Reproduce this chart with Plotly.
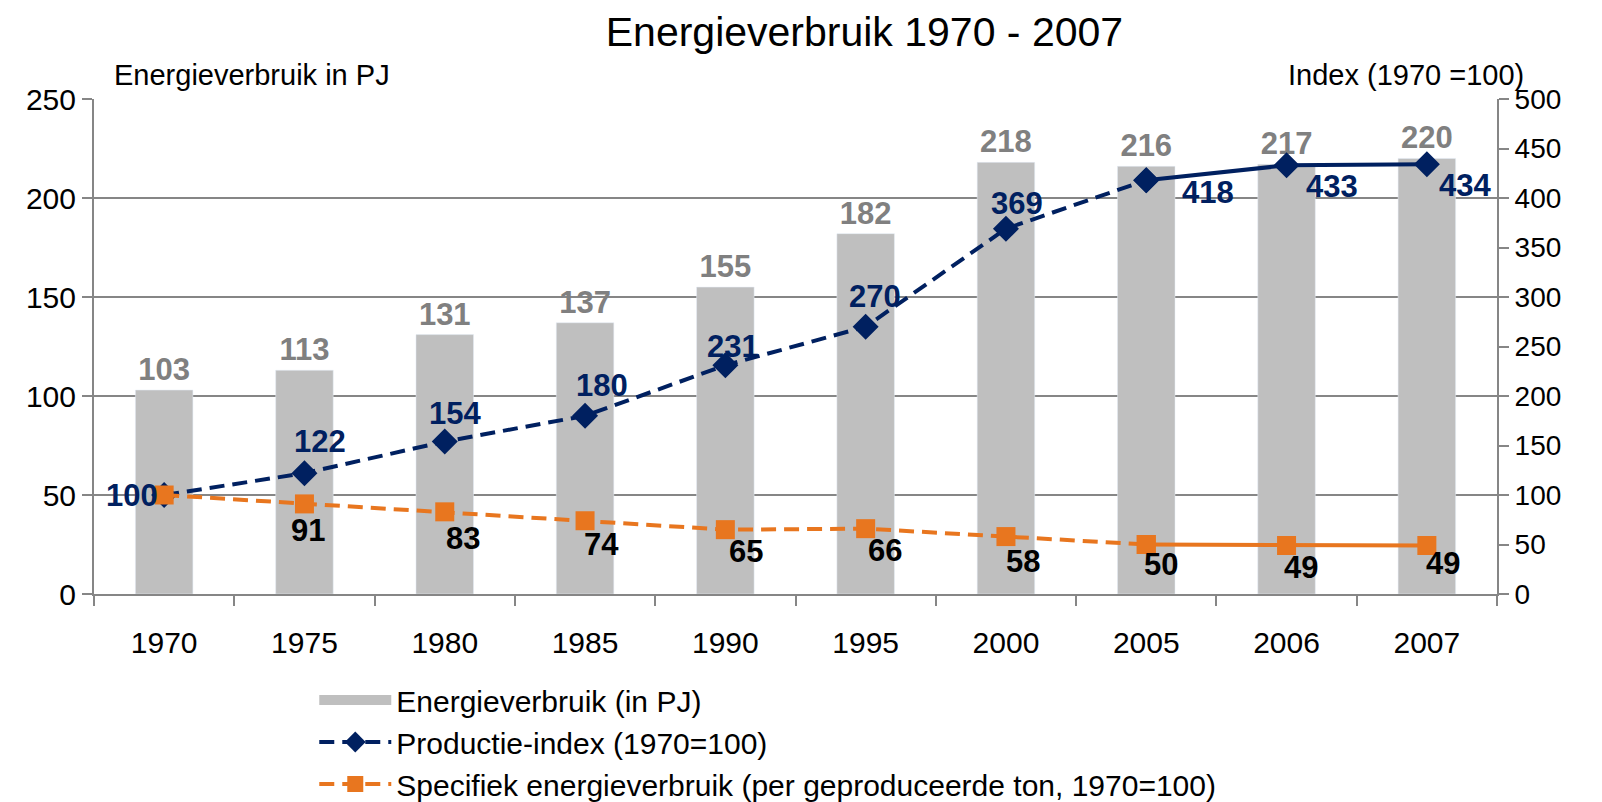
import plotly.graph_objects as go

years = ['1970', '1975', '1980', '1985', '1990', '1995', '2000', '2005', '2006', '2007']
energie = [103, 113, 131, 137, 155, 182, 218, 216, 217, 220]
productie = [100, 122, 154, 180, 231, 270, 369, 418, 433, 434]
specifiek = [100, 91, 83, 74, 65, 66, 58, 50, 49, 49]

GREY = '#BFBFBF'
NAVY = '#002060'
ORANGE = '#E8761F'
AXIS = '#868686'
FONT = 'Liberation Sans'

# label offsets in px (dx right, dy down) relative to each point
prod_off = [(-4, 0), (16, -32), (10, -28), (17, -30), (8, -19), (9, -30), (11, -25), (62, 12), (45, 21), (38, 21)]
spec_off = [None, (4, 27), (18, 27), (16, 24), (21, 22), (19, 22), (17, 25), (15, 20), (14, 22), (16, 18)]

fig = go.Figure()

fig.add_trace(go.Bar(
    x=years, y=energie, name='Energieverbruik (in PJ)',
    marker_color=GREY, width=0.41,
    text=energie, textposition='outside', cliponaxis=False,
    textfont=dict(color='#808080', size=31, family=FONT, weight='bold'),
    showlegend=False,
))
# wide grey swatch for the legend entry of the bars
fig.add_trace(go.Scatter(
    x=[None], y=[None], mode='lines', name='Energieverbruik (in PJ)',
    line=dict(color=GREY, width=17), legendgroup='a',
))

# productie-index: dashed up to 2005, solid afterwards
fig.add_trace(go.Scatter(
    x=years[:8], y=productie[:8], yaxis='y2', mode='lines+markers',
    name='Productie-index (1970=100)',
    line=dict(color=NAVY, width=4, dash='15px,8px'),
    marker=dict(symbol='diamond', size=20, color=NAVY),
    legendgroup='b',
))
fig.add_trace(go.Scatter(
    x=years[7:], y=productie[7:], yaxis='y2', mode='lines+markers',
    line=dict(color=NAVY, width=4),
    marker=dict(symbol='diamond', size=20, color=NAVY),
    showlegend=False, legendgroup='b',
))

fig.add_trace(go.Scatter(
    x=years[:8], y=specifiek[:8], yaxis='y2', mode='lines+markers',
    name='Specifiek energieverbruik (per geproduceerde ton, 1970=100)',
    line=dict(color=ORANGE, width=4, dash='15px,8px'),
    marker=dict(symbol='square', size=19, color=ORANGE),
    legendgroup='c',
))
fig.add_trace(go.Scatter(
    x=years[7:], y=specifiek[7:], yaxis='y2', mode='lines+markers',
    line=dict(color=ORANGE, width=4),
    marker=dict(symbol='square', size=19, color=ORANGE),
    showlegend=False, legendgroup='c',
))

annotations = [
    dict(text='Energieverbruik in PJ', xref='paper', yref='paper', x=0.013, y=1.0,
         xanchor='left', yanchor='middle', yshift=24, showarrow=False, font=dict(size=29)),
    dict(text='Index (1970 =100)', xref='paper', yref='paper', x=1.021, y=1.0,
         xanchor='right', yanchor='middle', yshift=24, showarrow=False, font=dict(size=29)),
]
for i, (v, (dx, dy)) in enumerate(zip(productie, prod_off)):
    annotations.append(dict(
        text=str(v), x=i, y=v, xref='x', yref='y2', showarrow=False,
        xanchor='right' if dx < 0 else 'center', yanchor='middle',
        xshift=dx, yshift=-dy,
        font=dict(color=NAVY, size=31, weight='bold'),
    ))
for i, (v, off) in enumerate(zip(specifiek, spec_off)):
    if off is None:
        continue
    annotations.append(dict(
        text=str(v), x=i, y=v, xref='x', yref='y2', showarrow=False,
        xanchor='center', yanchor='middle', xshift=off[0], yshift=-off[1],
        font=dict(color='black', size=31, weight='bold'),
    ))

fig.update_layout(
    width=1586, height=802,
    margin=dict(l=86, r=97, t=91, b=216),
    plot_bgcolor='white', paper_bgcolor='white',
    font=dict(family=FONT, size=30, color='black'),
    title=dict(text='Energieverbruik 1970 - 2007', font=dict(size=41, color='black'),
               xref='container', x=0.540, xanchor='center',
               yref='container', y=0.970, yanchor='middle'),
    showlegend=True,
    legend=dict(orientation='v', x=0.157, xanchor='left',
                yref='container', y=0, yanchor='bottom',
                font=dict(size=30), itemwidth=72, traceorder='grouped', tracegroupgap=0,
                bgcolor='rgba(0,0,0,0)'),
    xaxis=dict(type='category', range=[-0.5, 9.5], autorange=False, automargin=False,
               showline=True, linecolor=AXIS, linewidth=2,
               ticks='outside', tickson='boundaries', ticklen=10, tickcolor=AXIS,
               tickwidth=2, ticklabelstandoff=21, showgrid=False, tickfont=dict(size=30)),
    yaxis=dict(range=[0, 250], dtick=50, automargin=False, showline=True, linecolor=AXIS,
               linewidth=2, ticks='outside', ticklen=10, tickcolor=AXIS, tickwidth=2,
               showgrid=True, gridcolor=AXIS, gridwidth=1.5, zeroline=False,
               tickfont=dict(size=30)),
    yaxis2=dict(range=[0, 500], dtick=50, automargin=False, overlaying='y', side='right',
                showline=True, linecolor=AXIS, linewidth=2, ticks='outside', ticklen=10,
                tickcolor=AXIS, tickwidth=2, showgrid=False, zeroline=False,
                tickfont=dict(size=28)),
    annotations=annotations,
)

fig.write_html("out.html")
